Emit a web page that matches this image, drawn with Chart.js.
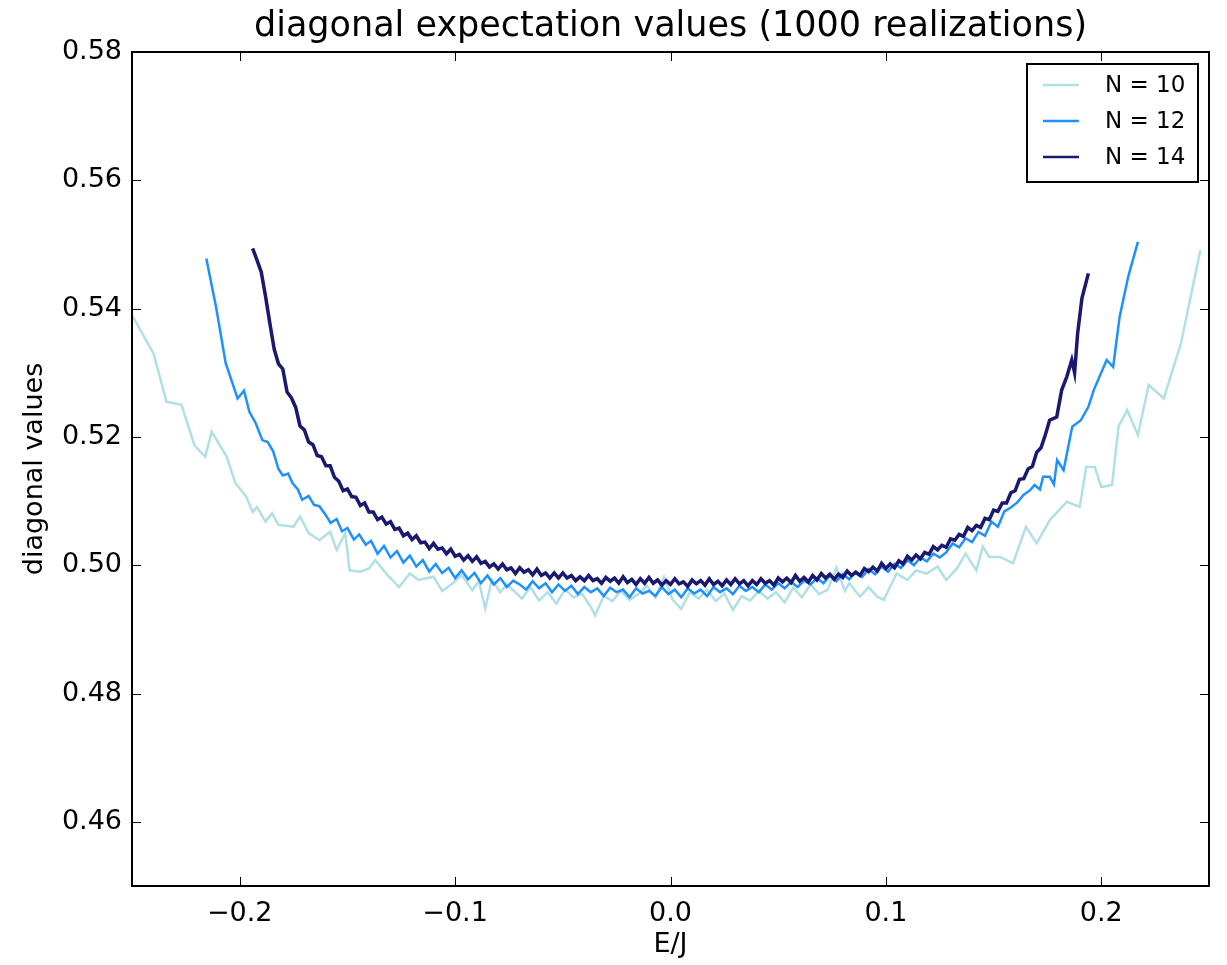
<!DOCTYPE html>
<html>
<head>
<meta charset="utf-8">
<script src="https://cdn.jsdelivr.net/npm/chart.js@4.4.0/dist/chart.umd.min.js"></script>
<style>
  body { margin: 0; background: #fff; }
  #chart { display: block; }
</style>
</head>
<body>
<canvas id="chart" width="1227" height="965"></canvas>
<script>
// chart text
const chartTitle = 'diagonal expectation values (1000 realizations)';
const xTitle = 'E/J';
const yTitle = 'diagonal values';
const seriesLabels = ['N = 10', 'N = 12', 'N = 14'];
const seriesColors = ['#b0e0e6', '#1e90ff', '#191970'];

// tick labels
const xTicks = [-0.2, -0.1, 0.0, 0.1, 0.2];
const yTicks = [0.46, 0.48, 0.50, 0.52, 0.54, 0.56, 0.58];

// N = 10
const n10X = [-0.250,-0.240,-0.234,-0.227,-0.221,-0.216,-0.213,-0.206,-0.202,-0.197,-0.194,-0.192,-0.188,-0.185,-0.182,-0.175,-0.172,-0.168,-0.163,-0.158,-0.155,-0.151,-0.149,-0.144,-0.140,-0.137,-0.132,-0.126,-0.121,-0.117,-0.110,-0.106,-0.101,-0.097,-0.092,-0.089,-0.086,-0.083,-0.079,-0.076,-0.073,-0.069,-0.065,-0.061,-0.057,-0.053,-0.049,-0.045,-0.041,-0.037,-0.035,-0.031,-0.027,-0.023,-0.019,-0.015,-0.011,-0.007,-0.003,0.001,0.005,0.009,0.013,0.017,0.021,0.025,0.029,0.033,0.037,0.041,0.045,0.049,0.053,0.057,0.061,0.065,0.069,0.073,0.077,0.081,0.083,0.088,0.092,0.096,0.099,0.105,0.110,0.114,0.119,0.124,0.128,0.133,0.137,0.142,0.145,0.148,0.153,0.159,0.165,0.170,0.176,0.184,0.190,0.193,0.197,0.200,0.205,0.208,0.212,0.217,0.222,0.229,0.237,0.246];
const n10Y = [0.5390,0.5330,0.5255,0.5250,0.5187,0.5169,0.5208,0.5169,0.5128,0.5107,0.5083,0.5091,0.5068,0.5081,0.5063,0.5060,0.5076,0.5050,0.5039,0.5052,0.5024,0.5050,0.4992,0.4990,0.4995,0.5008,0.4987,0.4966,0.4987,0.4977,0.4982,0.4960,0.4972,0.4985,0.4961,0.4975,0.4933,0.4977,0.4958,0.4970,0.4961,0.4948,0.4966,0.4945,0.4958,0.4940,0.4962,0.4950,0.4955,0.4935,0.4922,0.4952,0.4944,0.4960,0.4946,0.4955,0.4968,0.4950,0.4982,0.4946,0.4932,0.4958,0.4948,0.4962,0.4944,0.4956,0.4930,0.4952,0.4945,0.4960,0.4948,0.4958,0.4942,0.4965,0.4950,0.4970,0.4955,0.4962,0.4996,0.4960,0.4972,0.4951,0.4966,0.4951,0.4946,0.4987,0.4977,0.4992,0.4987,0.4998,0.4977,0.4995,0.5018,0.4992,0.5029,0.5013,0.5013,0.5003,0.5060,0.5034,0.5070,0.5099,0.5091,0.5153,0.5153,0.5122,0.5125,0.5216,0.5242,0.5203,0.5281,0.5260,0.5346,0.5491];

// N = 12
const n12X = [-0.2155,-0.211,-0.2065,-0.204,-0.201,-0.198,-0.1955,-0.1925,-0.1895,-0.187,-0.1845,-0.182,-0.180,-0.1775,-0.1755,-0.173,-0.171,-0.168,-0.1655,-0.163,-0.160,-0.1578,-0.155,-0.1525,-0.150,-0.147,-0.1445,-0.1415,-0.139,-0.136,-0.133,-0.130,-0.127,-0.124,-0.121,-0.118,-0.115,-0.112,-0.109,-0.106,-0.103,-0.100,-0.097,-0.094,-0.091,-0.088,-0.085,-0.082,-0.079,-0.076,-0.073,-0.070,-0.067,-0.064,-0.061,-0.058,-0.055,-0.052,-0.049,-0.046,-0.043,-0.040,-0.037,-0.034,-0.031,-0.028,-0.025,-0.022,-0.019,-0.016,-0.013,-0.010,-0.007,-0.004,-0.001,0.002,0.005,0.008,0.011,0.014,0.017,0.020,0.023,0.026,0.029,0.032,0.035,0.038,0.041,0.044,0.047,0.050,0.053,0.056,0.059,0.062,0.065,0.068,0.071,0.074,0.077,0.080,0.083,0.086,0.089,0.092,0.095,0.098,0.101,0.104,0.107,0.110,0.113,0.116,0.119,0.122,0.125,0.128,0.131,0.134,0.137,0.140,0.143,0.146,0.149,0.152,0.155,0.158,0.161,0.164,0.167,0.169,0.1715,0.173,0.176,0.178,0.1795,0.1825,0.1865,0.1905,0.194,0.1965,0.2025,0.2055,0.2085,0.2125,0.217];
const n12Y = [0.5478,0.5403,0.5315,0.5290,0.5260,0.5272,0.5239,0.5221,0.5195,0.5192,0.5178,0.5150,0.5140,0.5143,0.5128,0.5118,0.5102,0.5108,0.5094,0.5092,0.5078,0.5066,0.5072,0.5053,0.5058,0.5040,0.5048,0.5032,0.5038,0.5018,0.5030,0.5012,0.5022,0.5004,0.5015,0.4998,0.5008,0.4990,0.5002,0.4988,0.4996,0.4980,0.4992,0.4978,0.4988,0.4972,0.4984,0.4970,0.4980,0.4966,0.4976,0.4970,0.4962,0.4975,0.4964,0.4972,0.4958,0.4970,0.4960,0.4968,0.4955,0.4966,0.4958,0.4964,0.4952,0.4965,0.4958,0.4962,0.4950,0.4964,0.4956,0.4960,0.4952,0.4966,0.4955,0.4962,0.4950,0.4964,0.4956,0.4962,0.4952,0.4966,0.4958,0.4964,0.4955,0.4968,0.4960,0.4966,0.4958,0.4970,0.4962,0.4972,0.4964,0.4974,0.4966,0.4976,0.4970,0.4980,0.4972,0.4984,0.4975,0.4986,0.4978,0.4990,0.4982,0.4994,0.4986,0.4998,0.4990,0.5002,0.4996,0.5008,0.5000,0.5012,0.5006,0.5018,0.5012,0.5020,0.5034,0.5028,0.5042,0.5036,0.5052,0.5046,0.5068,0.5060,0.5084,0.5090,0.5098,0.5110,0.5117,0.5125,0.5118,0.5138,0.5138,0.5126,0.5164,0.5148,0.5216,0.5226,0.5247,0.5273,0.5320,0.5309,0.5387,0.5450,0.5504];

// N = 14
const n14X = [
  -0.194,-0.192,-0.190,-0.188,-0.186,-0.184,-0.182,-0.180,-0.178,-0.176,
  -0.174,-0.172,-0.170,-0.168,-0.166,-0.164,-0.162,-0.160,-0.158,-0.156,
  -0.154,-0.152,-0.150,-0.148,-0.146,-0.144,-0.142,-0.140,-0.138,-0.136,
  -0.134,-0.132,-0.130,-0.128,-0.126,-0.124,-0.122,-0.120,-0.118,-0.116,
  -0.114,-0.112,-0.110,-0.108,-0.106,-0.104,-0.102,-0.100,-0.098,-0.096,
  -0.094,-0.092,-0.090,-0.088,-0.086,-0.084,-0.082,-0.080,-0.078,-0.076,
  -0.074,-0.072,-0.070,-0.068,-0.066,-0.064,-0.062,-0.060,-0.058,-0.056,
  -0.054,-0.052,-0.050,-0.048,-0.046,-0.044,-0.042,-0.040,-0.038,-0.036,
  -0.034,-0.032,-0.030,-0.028,-0.026,-0.024,-0.022,-0.020,-0.018,-0.016,
  -0.014,-0.012,-0.010,-0.008,-0.006,-0.004,-0.002,0.000,0.002,0.004,
  0.006,0.008,0.010,0.012,0.014,0.016,0.018,0.020,0.022,0.024,
  0.026,0.028,0.030,0.032,0.034,0.036,0.038,0.040,0.042,0.044,
  0.046,0.048,0.050,0.052,0.054,0.056,0.058,0.060,0.062,0.064,
  0.066,0.068,0.070,0.072,0.074,0.076,0.078,0.080,0.082,0.084,
  0.086,0.088,0.090,0.092,0.094,0.096,0.098,0.100,0.102,0.104,
  0.106,0.108,0.110,0.112,0.114,0.116,0.118,0.120,0.122,0.124,
  0.126,0.128,0.130,0.132,0.134,0.136,0.138,0.140,0.142,0.144,
  0.146,0.148,0.150,0.152,0.154,0.156,0.158,0.160,0.162,0.164,
  0.166,0.168,0.170,0.172,0.174,0.176,0.1793,0.1816,0.184,0.1863,
  0.1876,0.189,0.191,0.194
];
const n14Y = [
  0.5494,0.5476,0.5457,0.5419,0.5377,0.5337,0.5314,0.5306,0.5270,0.5261,
  0.5246,0.5217,0.5211,0.5192,0.5188,0.5171,0.5169,0.5155,0.5155,0.5137,
  0.5131,0.5116,0.5119,0.5107,0.5106,0.5093,0.5097,0.5083,0.5083,0.5071,
  0.5075,0.5064,0.5068,0.5056,0.5058,0.5046,0.5050,0.5040,0.5046,0.5035,
  0.5036,0.5026,0.5034,0.5025,0.5027,0.5018,0.5025,0.5014,0.5017,0.5008,
  0.5015,0.5006,0.5013,0.5003,0.5006,0.4997,0.5002,0.4994,0.5002,0.4993,
  0.4996,0.4987,0.4996,0.4989,0.4993,0.4985,0.4994,0.4984,0.4988,0.4980,
  0.4988,0.4980,0.4988,0.4980,0.4984,0.4976,0.4982,0.4976,0.4984,0.4976,
  0.4979,0.4972,0.4981,0.4975,0.4980,0.4972,0.4982,0.4973,0.4978,0.4970,
  0.4979,0.4972,0.4981,0.4972,0.4977,0.4969,0.4976,0.4970,0.4979,0.4971,
  0.4974,0.4967,0.4977,0.4971,0.4976,0.4969,0.4979,0.4970,0.4975,0.4968,
  0.4977,0.4970,0.4979,0.4971,0.4976,0.4968,0.4976,0.4970,0.4979,0.4972,
  0.4976,0.4969,0.4980,0.4974,0.4980,0.4973,0.4984,0.4975,0.4981,0.4974,
  0.4984,0.4977,0.4987,0.4980,0.4986,0.4978,0.4986,0.4981,0.4991,0.4984,
  0.4989,0.4984,0.4995,0.4990,0.4997,0.4991,0.5003,0.4995,0.5002,0.4996,
  0.5007,0.5002,0.5014,0.5008,0.5016,0.5010,0.5020,0.5017,0.5029,0.5024,
  0.5031,0.5028,0.5041,0.5039,0.5048,0.5045,0.5059,0.5054,0.5062,0.5059,
  0.5073,0.5071,0.5086,0.5084,0.5097,0.5097,0.5113,0.5116,0.5134,0.5135,
  0.5150,0.5154,0.5176,0.5183,0.5203,0.5226,0.5231,0.5273,0.5294,0.5320,
  0.5300,0.5361,0.5416,0.5455
];

const FONT = 'DejaVu Sans';

function toPoints(xs, ys) {
  return xs.map((x, i) => ({ x: x, y: ys[i] }));
}

function fmtTick(v, digits) {
  const s = Math.abs(v).toFixed(digits);
  return v < -1e-9 ? '\u2212' + s : s;
}

// frame, inward ticks and the boxed legend (matplotlib classic look)
const framePlugin = {
  id: 'frame',
  afterDatasetsDraw(chart) {
    const { ctx, chartArea: a, scales } = chart;
    ctx.save();
    ctx.strokeStyle = '#000';
    ctx.lineWidth = 1;
    ctx.beginPath();
    xTicks.forEach(v => {
      const px = Math.round(scales.x.getPixelForValue(v)) + 0.5;
      ctx.moveTo(px, a.bottom); ctx.lineTo(px, a.bottom - 9);
      ctx.moveTo(px, a.top); ctx.lineTo(px, a.top + 9);
    });
    yTicks.forEach(v => {
      const py = Math.round(scales.y.getPixelForValue(v)) + 0.5;
      ctx.moveTo(a.left, py); ctx.lineTo(a.left + 9, py);
      ctx.moveTo(a.right, py); ctx.lineTo(a.right - 9, py);
    });
    ctx.stroke();
    ctx.lineWidth = 2;
    ctx.strokeRect(a.left, a.top, a.right - a.left, a.bottom - a.top);
    ctx.restore();
  },
  afterDraw(chart) {
    const { ctx, chartArea: a } = chart;
    const boxW = 171, boxH = 118;
    const bx = a.right - 11 - boxW, by = a.top + 12;
    ctx.save();
    ctx.fillStyle = '#fff';
    ctx.fillRect(bx, by, boxW, boxH);
    ctx.strokeStyle = '#000';
    ctx.lineWidth = 2;
    ctx.strokeRect(bx, by, boxW, boxH);
    ctx.font = '23px "' + FONT + '"';
    ctx.textBaseline = 'middle';
    ctx.textAlign = 'left';
    seriesLabels.forEach((lab, i) => {
      const y = by + 21 + i * 36;
      ctx.strokeStyle = seriesColors[i];
      ctx.lineWidth = 2.5;
      ctx.beginPath();
      ctx.moveTo(bx + 16, y); ctx.lineTo(bx + 52, y);
      ctx.stroke();
      ctx.fillStyle = '#000';
      ctx.fillText(lab, bx + 78, y + 1);
    });
    ctx.restore();
  }
};

const lineWidths = [2.5, 2.5, 3.5];

const datasets = [
  { label: seriesLabels[0], data: toPoints(n10X, n10Y), borderColor: seriesColors[0], order: 3 },
  { label: seriesLabels[1], data: toPoints(n12X, n12Y), borderColor: seriesColors[1], order: 2 },
  { label: seriesLabels[2], data: toPoints(n14X, n14Y), borderColor: seriesColors[2], order: 1 }
].map((d, i) => Object.assign(d, {
  borderWidth: lineWidths[i], pointRadius: 0, tension: 0, fill: false
}));

new Chart(document.getElementById('chart').getContext('2d'), {
  type: 'line',
  data: { datasets: datasets },
  plugins: [framePlugin],
  options: {
    responsive: false,
    animation: false,
    layout: { padding: { left: 0, right: 18, top: 0, bottom: 0 } },
    plugins: {
      legend: { display: false },
      tooltip: { enabled: false },
      title: {
        display: true,
        fullSize: false,
        text: chartTitle,
        color: '#000',
        font: { family: FONT, size: 35, weight: 'normal' },
        padding: { top: 6, bottom: 4 }
      }
    },
    scales: {
      x: {
        type: 'linear',
        min: -0.25,
        max: 0.25,
        afterBuildTicks: s => { s.ticks = xTicks.map(v => ({ value: v })); },
        afterFit: s => { s.height = 79; },
        grid: { display: false, drawTicks: false },
        border: { display: false },
        ticks: {
          color: '#000',
          font: { family: FONT, size: 27 },
          padding: 12,
          maxRotation: 0,
          autoSkip: false,
          callback: v => fmtTick(v, 1)
        },
        title: {
          display: true,
          text: xTitle,
          color: '#000',
          font: { family: FONT, size: 27 },
          padding: { top: 0, bottom: 4 }
        }
      },
      y: {
        min: 0.45,
        max: 0.58,
        afterBuildTicks: s => { s.ticks = yTicks.map(v => ({ value: v })); },
        afterFit: s => { s.width = 132; },
        grid: { display: false, drawTicks: false },
        border: { display: false },
        ticks: {
          color: '#000',
          font: { family: FONT, size: 27 },
          padding: 10,
          callback: v => fmtTick(v, 2)
        },
        title: {
          display: true,
          text: yTitle,
          color: '#000',
          font: { family: FONT, size: 27 },
          padding: { top: 19, bottom: 0 }
        }
      }
    }
  }
});
</script>
</body>
</html>
